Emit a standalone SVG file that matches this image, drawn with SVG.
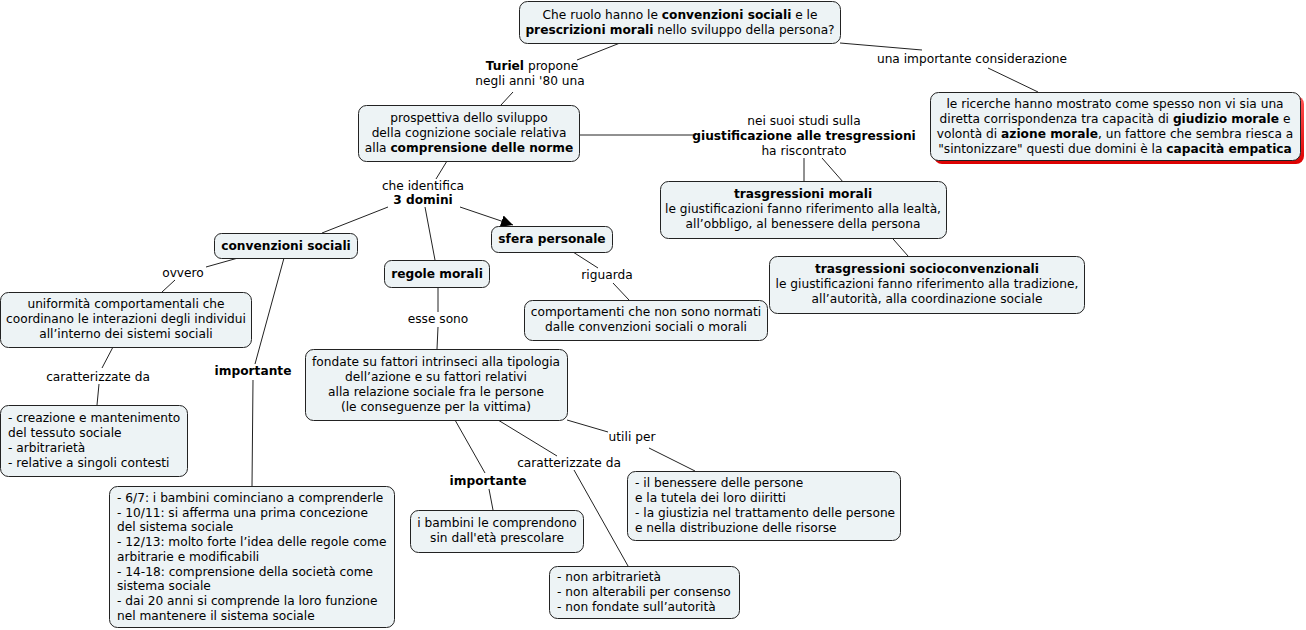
<svg xmlns="http://www.w3.org/2000/svg" width="1306" height="630" viewBox="0 0 1306 630">
<style>
text{font-family:"DejaVu Sans",Verdana,sans-serif;font-size:12.2px;fill:#000}
.c{text-anchor:middle}
.b{font-weight:bold}
.box{fill:#edf3f5;stroke:#222;stroke-width:1}
.ln{stroke:#222;stroke-width:1;fill:none}
</style>
<defs>
<marker id="arr" viewBox="0 0 10 10" refX="10" refY="5" markerWidth="12" markerHeight="12" markerUnits="userSpaceOnUse" orient="auto">
<path d="M0,0 L10,5 L0,10 z" fill="#000"/>
</marker>
<linearGradient id="red" x1="0" y1="0" x2="0" y2="1">
<stop offset="0" stop-color="#f55"/>
<stop offset="1" stop-color="#d00"/>
</linearGradient>
</defs>
<g id="connectors">
<line class="ln" x1="620" y1="43" x2="577" y2="60"/>
<line class="ln" x1="513" y1="92" x2="501" y2="105"/>
<line class="ln" x1="840" y1="43" x2="922" y2="50"/>
<line class="ln" x1="988" y1="68" x2="1038" y2="92"/>
<line class="ln" x1="579" y1="135" x2="696" y2="135"/>
<line class="ln" x1="804" y1="158" x2="804" y2="181"/>
<line class="ln" x1="822" y1="158" x2="908" y2="256"/>
<line class="ln" x1="447" y1="161" x2="436" y2="179"/>
<line class="ln" x1="388" y1="207" x2="322" y2="233"/>
<line class="ln" x1="425" y1="207" x2="435" y2="260"/>
<line class="ln" x1="460" y1="207" x2="513" y2="225" marker-end="url(#arr)"/>
<line class="ln" x1="238" y1="258" x2="206" y2="267"/>
<line class="ln" x1="175" y1="280" x2="162" y2="292"/>
<line class="ln" x1="284" y1="258" x2="255" y2="364"/>
<line class="ln" x1="253" y1="380" x2="252" y2="486"/>
<line class="ln" x1="113" y1="347" x2="102" y2="368"/>
<line class="ln" x1="99" y1="384" x2="97" y2="405"/>
<line class="ln" x1="438" y1="287" x2="438" y2="312"/>
<line class="ln" x1="438" y1="327" x2="437" y2="349"/>
<line class="ln" x1="573" y1="252" x2="598" y2="268"/>
<line class="ln" x1="613" y1="283" x2="629" y2="300"/>
<line class="ln" x1="455" y1="420" x2="485" y2="473"/>
<line class="ln" x1="489" y1="489" x2="493" y2="510"/>
<line class="ln" x1="498" y1="420" x2="557" y2="456"/>
<line class="ln" x1="574" y1="470" x2="628" y2="566"/>
<line class="ln" x1="567" y1="420" x2="608" y2="432"/>
<line class="ln" x1="649" y1="448" x2="695" y2="471"/>
</g>
<g id="labels">
<text class="c" x="532" y="70"><tspan class="b">Turiel</tspan> propone</text>
<text class="c" x="530" y="85">negli anni '80 una</text>
<text class="c" x="972" y="63">una importante considerazione</text>
<text class="c" x="804" y="125">nei suoi studi sulla</text>
<text class="c b" x="804" y="140">giustificazione alle tresgressioni</text>
<text class="c" x="804" y="155">ha riscontrato</text>
<text class="c" x="423" y="190">che identifica</text>
<text class="c b" x="423" y="204">3 domini</text>
<text class="c" x="183" y="277">ovvero</text>
<text class="c b" x="253" y="375">importante</text>
<text class="c" x="98" y="381">caratterizzate da</text>
<text class="c" x="438" y="323">esse sono</text>
<text class="c" x="607" y="279">riguarda</text>
<text class="c b" x="488" y="485">importante</text>
<text class="c" x="569" y="467">caratterizzate da</text>
<text class="c" x="632" y="441">utili per</text>
</g>
<g id="n-domanda">
<rect class="box" x="519.5" y="1.5" width="321" height="42" rx="8"/>
<text class="c" x="680" y="19">Che ruolo hanno le <tspan class="b">convenzioni sociali</tspan> e le</text>
<text class="c" x="680" y="34"><tspan class="b">prescrizioni morali</tspan> nello sviluppo della persona?</text>
</g>
<g id="n-prospettiva">
<rect class="box" x="358.5" y="105.5" width="221" height="56" rx="8"/>
<text class="c" x="469" y="122">prospettiva dello sviluppo</text>
<text class="c" x="469" y="137">della cognizione sociale relativa</text>
<text class="c" x="469" y="152">alla <tspan class="b">comprensione delle norme</tspan></text>
</g>
<g id="n-ricerche">
<rect x="934" y="96" width="370" height="68" rx="8" fill="url(#red)"/>
<rect class="box" x="930.5" y="92.5" width="370" height="68" rx="8"/>
<text class="c" x="1115" y="108">le ricerche hanno mostrato come spesso non vi sia una</text>
<text class="c" x="1115" y="123">diretta corrispondenza tra capacità di <tspan class="b">giudizio morale</tspan> e</text>
<text class="c" x="1115" y="138">volontà di <tspan class="b">azione morale</tspan>, un fattore che sembra riesca a</text>
<text class="c" x="1115" y="153">"sintonizzare" questi due domini è la <tspan class="b">capacità empatica</tspan></text>
</g>
<g id="n-tras-morali">
<rect class="box" x="660.5" y="181.5" width="286" height="57" rx="8"/>
<text class="c b" x="803" y="198">trasgressioni morali</text>
<text class="c" x="803" y="213">le giustificazioni fanno riferimento alla lealtà,</text>
<text class="c" x="803" y="228">all’obbligo, al benessere della persona</text>
</g>
<g id="n-tras-socio">
<rect class="box" x="769.5" y="256.5" width="315" height="57" rx="8"/>
<text class="c b" x="927" y="273">trasgressioni socioconvenzionali</text>
<text class="c" x="927" y="288">le giustificazioni fanno riferimento alla tradizione,</text>
<text class="c" x="927" y="303">all’autorità, alla coordinazione sociale</text>
</g>
<g id="n-convenzioni">
<rect class="box" x="214.5" y="233.5" width="143" height="25" rx="7"/>
<text class="c b" x="286" y="250">convenzioni sociali</text>
</g>
<g id="n-regole">
<rect class="box" x="384.5" y="260.5" width="105" height="27" rx="7"/>
<text class="c b" x="437" y="278">regole morali</text>
</g>
<g id="n-sfera">
<rect class="box" x="491.5" y="226.5" width="121" height="26" rx="7"/>
<text class="c b" x="552" y="243">sfera personale</text>
</g>
<g id="n-comportamenti">
<rect class="box" x="524.5" y="300.5" width="243" height="40" rx="8"/>
<text class="c" x="646" y="316">comportamenti che non sono normati</text>
<text class="c" x="646" y="331">dalle convenzioni sociali o morali</text>
</g>
<g id="n-uniformita">
<rect class="box" x="0.5" y="292.5" width="251" height="55" rx="8"/>
<text class="c" x="126" y="308">uniformità comportamentali che</text>
<text class="c" x="126" y="323">coordinano le interazioni degli individui</text>
<text class="c" x="126" y="338">all’interno dei sistemi sociali</text>
</g>
<g id="n-creazione">
<rect class="box" x="0.5" y="405.5" width="187" height="71" rx="8"/>
<text x="8" y="422">- creazione e mantenimento</text>
<text x="8" y="437">del tessuto sociale</text>
<text x="8" y="452">- arbitrarietà</text>
<text x="8" y="467">- relative a singoli contesti</text>
</g>
<g id="n-fondate">
<rect class="box" x="305.5" y="349.5" width="262" height="71" rx="8"/>
<text class="c" x="436" y="366">fondate su fattori intrinseci alla tipologia</text>
<text class="c" x="436" y="381">dell’azione e su fattori relativi</text>
<text class="c" x="436" y="396">alla relazione sociale fra le persone</text>
<text class="c" x="436" y="411">(le conseguenze per la vittima)</text>
</g>
<g id="n-benessere">
<rect class="box" x="627.5" y="471.5" width="273" height="69" rx="8"/>
<text x="635" y="487">- il benessere delle persone</text>
<text x="635" y="502">e la tutela dei loro diiritti</text>
<text x="635" y="517">- la giustizia nel trattamento delle persone</text>
<text x="635" y="532">e nella distribuzione delle risorse</text>
</g>
<g id="n-bambini">
<rect class="box" x="410.5" y="510.5" width="173" height="42" rx="8"/>
<text class="c" x="497" y="527">i bambini le comprendono</text>
<text class="c" x="497" y="542">sin dall'età prescolare</text>
</g>
<g id="n-nonarbitrarieta">
<rect class="box" x="549.5" y="566.5" width="190" height="52" rx="8"/>
<text x="557" y="581">- non arbitrarietà</text>
<text x="557" y="596">- non alterabili per consenso</text>
<text x="557" y="611">- non fondate sull’autorità</text>
</g>
<g id="n-eta">
<rect class="box" x="109.5" y="486.5" width="285" height="141" rx="8"/>
<text x="117" y="502">- 6/7: i bambini cominciano a comprenderle</text>
<text x="117" y="516.7">- 10/11: si afferma una prima concezione</text>
<text x="117" y="531.4">del sistema sociale</text>
<text x="117" y="546.1">- 12/13: molto forte l’idea delle regole come</text>
<text x="117" y="560.8">arbitrarie e modificabili</text>
<text x="117" y="575.5">- 14-18: comprensione della società come</text>
<text x="117" y="590.2">sistema sociale</text>
<text x="117" y="604.9">- dai 20 anni si comprende la loro funzione</text>
<text x="117" y="619.6">nel mantenere il sistema sociale</text>
</g>
</svg>
